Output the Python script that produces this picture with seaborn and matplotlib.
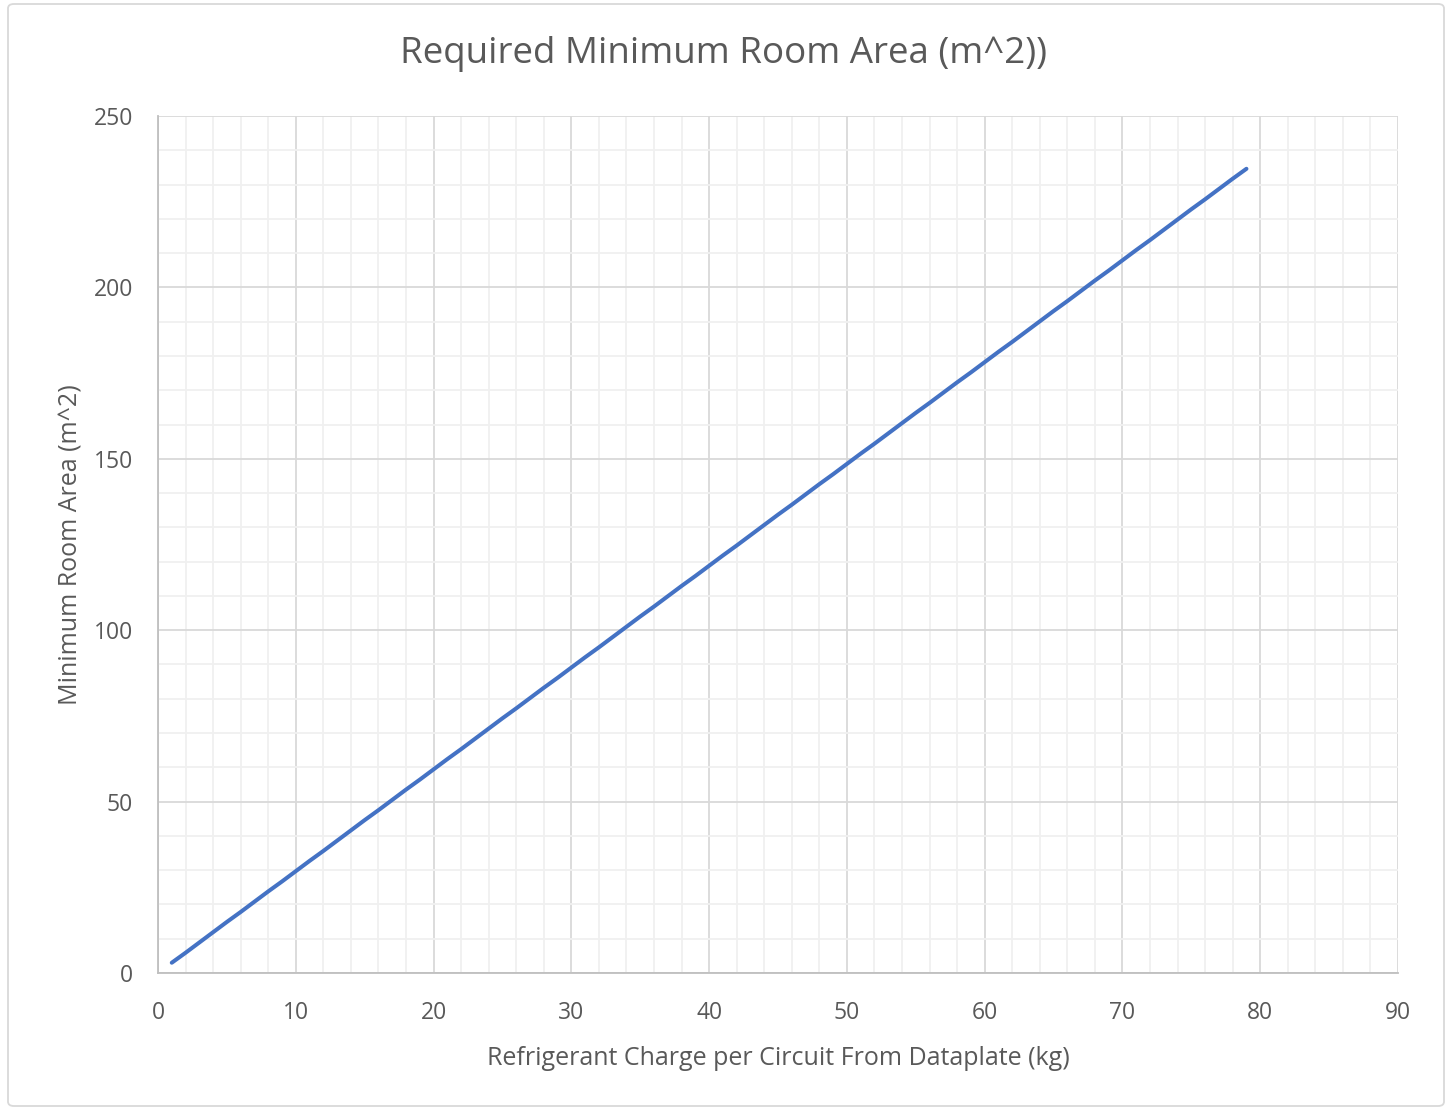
import matplotlib
matplotlib.use("Agg")
import matplotlib.pyplot as plt
import seaborn as sns
import pandas as pd
from matplotlib.ticker import MultipleLocator
from matplotlib.patches import FancyBboxPatch

charge_kg = list(range(1, 80))
min_area_m2 = [3.0, 5.9, 8.9, 11.9, 14.9, 17.8, 20.8, 23.8, 26.7, 29.7,
               32.7, 35.6, 38.6, 41.6, 44.6, 47.5, 50.5, 53.5, 56.4, 59.4,
               62.4, 65.3, 68.3, 71.3, 74.3, 77.2, 80.2, 83.2, 86.1, 89.1,
               92.1, 95.0, 98.0, 101.0, 104.0, 106.9, 109.9, 112.9, 115.8, 118.8,
               121.8, 124.7, 127.7, 130.7, 133.7, 136.6, 139.6, 142.6, 145.5, 148.5,
               151.5, 154.4, 157.4, 160.4, 163.4, 166.3, 169.3, 172.3, 175.2, 178.2,
               181.2, 184.1, 187.1, 190.1, 193.1, 196.0, 199.0, 202.0, 204.9, 207.9,
               210.9, 213.8, 216.8, 219.8, 222.8, 225.7, 228.7, 231.7, 234.6]

title = "Required Minimum Room Area (m^2))"
xlabel = "Refrigerant Charge per Circuit From Dataplate (kg)"
ylabel = "Minimum Room Area (m^2)"

df = pd.DataFrame({"x": charge_kg, "y": min_area_m2})

sns.set_theme(style="white")
plt.rcParams['font.family'] = ['Open Sans', 'DejaVu Sans']
text_color = "#595959"

fig = plt.figure(figsize=(14.51, 11.10), dpi=100)
ax = fig.add_axes([158/1451, 1 - 973/1110, (1398-158)/1451, (973-116)/1110])

sns.lineplot(data=df, x="x", y="y", ax=ax, color="#4472C4", linewidth=2.9)

ax.set_xlim(0, 90)
ax.set_ylim(0, 250)
ax.xaxis.set_major_locator(MultipleLocator(10))
ax.xaxis.set_minor_locator(MultipleLocator(2))
ax.yaxis.set_major_locator(MultipleLocator(50))
ax.yaxis.set_minor_locator(MultipleLocator(10))
ax.grid(which="major", color="#d9d9d9", linewidth=1.3)
ax.grid(which="minor", color="#f0f0f0", linewidth=1.3)
ax.set_axisbelow(True)

for s in ["top", "right"]:
    ax.spines[s].set_visible(False)
for s in ["left", "bottom"]:
    ax.spines[s].set_color("#bfbfbf")
    ax.spines[s].set_linewidth(1.3)

ax.tick_params(axis="both", which="both", length=0, labelsize=16.5, colors=text_color)
ax.tick_params(axis="x", pad=20)
ax.tick_params(axis="y", pad=18)

ax.set_xlabel(xlabel, fontsize=18, color=text_color, labelpad=15)
ax.set_ylabel(ylabel, fontsize=18, color=text_color, labelpad=7)

fig.text(724/1451, 1 - 54/1110, title, fontsize=26.5, color=text_color, ha="center", va="center")

border = FancyBboxPatch((8/1451, 4/1110), (1444-8)/1451, (1106-4)/1110,
                        boxstyle="round,pad=0,rounding_size=0.004",
                        transform=fig.transFigure, fill=False,
                        edgecolor="#d9d9d9", linewidth=1.3)
fig.patches.append(border)

fig.savefig("out.png", dpi=100)
